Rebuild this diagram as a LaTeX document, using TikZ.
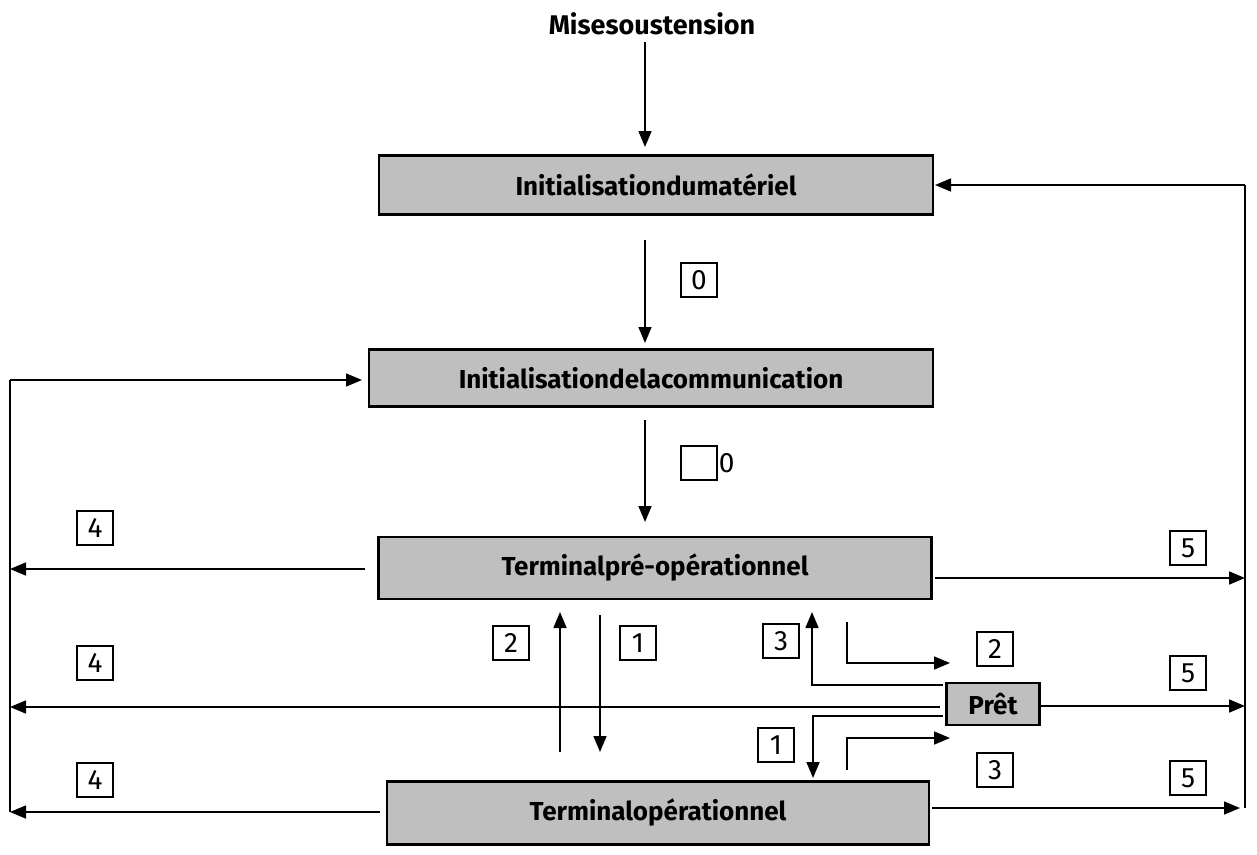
\documentclass[tikz,border=0pt]{standalone}
\usepackage{fontspec}
\setmainfont{Fira Sans}
\usetikzlibrary{arrows.meta}
\begin{document}
\begin{tikzpicture}[x=1pt,y=-1pt,
  box/.style={draw,line width=2.4pt,fill=gray!50,inner sep=0pt,font=\bfseries\fontsize{26}{28}\selectfont},
  num/.style={draw,line width=1.3pt,minimum width=36pt,minimum height=34pt,inner sep=0pt,font=\fontsize{28}{28}\selectfont},
  ar/.style={line width=1.6pt,-{Triangle[length=16pt,width=13pt]}},
  ln/.style={line width=1.6pt}]
\useasboundingbox (0,0) rectangle (1257,854);
\node[font=\bfseries\fontsize{27}{30}\selectfont] (t) at (652,24) {Misesoustension};
\node[box,minimum width=554pt,minimum height=59pt] (m) at (656,185) {Initialisationdumatériel};
\node[box,minimum width=564pt,minimum height=57pt] (c) at (651,378) {Initialisationdelacommunication};
\node[box,minimum width=553pt,minimum height=62pt] (p) at (655,568) {Terminalpré-opérationnel};
\node[box,minimum width=93pt,minimum height=42pt] (r) at (993,704) {Prêt};
\node[box,minimum width=542pt,minimum height=63pt] (o) at (658,813) {Terminalopérationnel};
\coordinate (a1) at (645,42); \coordinate (a2) at (645,147);
\coordinate (b1) at (645,240); \coordinate (b2) at (645,343);
\coordinate (c1) at (645,420); \coordinate (c2) at (645,522);
\draw[ar] (a1) -- (a2);
\draw[ar] (b1) -- (b2);
\draw[ar] (c1) -- (c2);
\node[num] (n0) at (699,280) {0};
\node[num] (e0) at (699,463) {};
\node[font=\fontsize{28}{28}\selectfont,anchor=west,inner sep=1pt] (z0) at (e0.east) {0};
\coordinate (L1) at (10,380); \coordinate (L2) at (10,812);
\draw[ln] (L2) -- (L1);
\draw[ar] (L1) -- (362,380);
\draw[ar] (365,569) -- (10,569);
\draw[ar] (940,707) -- (10,707);
\draw[ar] (380,812) -- (10,812);
\node[num] at (95,528) {4};
\node[num] at (95,663) {4};
\node[num] at (95,780) {4};
\coordinate (R1) at (1245,185); \coordinate (R2) at (1245,808);
\draw[ln] (R2) -- (R1);
\draw[ar] (R1) -- (935,185);
\draw[ar] (935,578) -- (1245,578);
\draw[ar] (1040,706) -- (1245,706);
\draw[ar] (932,808) -- (1240,808);
\node[num] at (1188,548) {5};
\node[num] at (1188,673) {5};
\node[num] at (1188,778) {5};
\draw[ar] (560,752) -- (560,612);
\draw[ar] (600,615) -- (600,752);
\node[num] at (511,643) {2};
\node[num] at (638,643) {1};
\draw[ar] (943,685) -- (812,685) -- (812,612);
\node[num] at (781,641) {3};
\draw[ar] (847,622) -- (847,663) -- (950,663);
\node[num] at (995,649) {2};
\draw[ar] (943,716) -- (813,716) -- (813,778);
\node[num] at (776,745) {1};
\draw[ar] (847,770) -- (847,738) -- (950,738);
\node[num] at (995,770) {3};
\end{tikzpicture}
\end{document}
